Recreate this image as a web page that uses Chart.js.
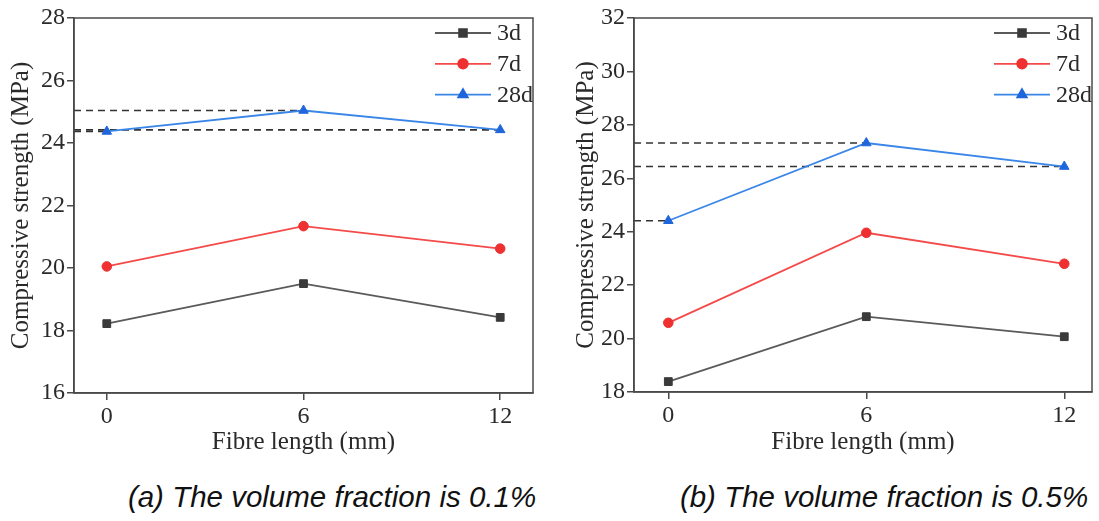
<!DOCTYPE html>
<html><head><meta charset="utf-8">
<script src="https://cdn.jsdelivr.net/npm/chart.js@4/dist/chart.umd.min.js"></script>
<style>
html,body{margin:0;padding:0;background:#fff;width:1099px;height:521px;overflow:hidden;}
.panel{position:absolute;top:0;}
.cap{position:absolute;font:italic 29.5px "Liberation Sans",Arial,sans-serif;color:#111;white-space:nowrap;transform:translateX(-50%);line-height:32px;}
</style></head><body>
<div class="panel" style="left:0px"><canvas id="ca" width="548" height="460"></canvas></div>
<div class="panel" style="left:550px"><canvas id="cb" width="549" height="460"></canvas></div>
<div class="cap" style="left:332px;top:481px">(a) The volume fraction is 0.1%</div>
<div class="cap" style="left:884px;top:481px">(b) The volume fraction is 0.5%</div>
<script>
// ---- data ----
const fibreLengths = [0, 6, 12];
const ageLabels = ['3d', '7d', '28d'];
const xTickValues = [0, 6, 12];
const yTicksA = [16, 18, 20, 22, 24, 26, 28];
const yTicksB = [18, 20, 22, 24, 26, 28, 30, 32];
// (a) volume fraction 0.1%
const strengthA_3d = [18.22, 19.50, 18.42];
const strengthA_7d = [20.05, 21.34, 20.62];
const strengthA_28d = [24.37, 25.04, 24.42];
// (b) volume fraction 0.5%
const strengthB_3d = [18.39, 20.82, 20.07];
const strengthB_7d = [20.59, 23.96, 22.80];
const strengthB_28d = [24.41, 27.32, 26.44];

const axisColor = '#4a4a4a';
const textColor = '#2a2a2a';
const serif = '"Liberation Serif","Times New Roman",serif';
const seriesStyle = [
  {line: '#5a5a5a', point: '#3a3a3a', pointStyle: 'rect', radius: 5.5},
  {line: '#f44a4a', point: '#ee3030', pointStyle: 'circle', radius: 4.8},
  {line: '#3a86e8', point: '#1f66dc', pointStyle: 'triangle', radius: 5.5}
];

const framePlugin = {
  id: 'frame',
  afterDatasetsDraw(chart) {
    const {ctx, chartArea: a} = chart;
    ctx.save();
    ctx.strokeStyle = axisColor;
    ctx.lineWidth = 1.5;
    ctx.strokeRect(a.left, a.top, a.width, a.height);
    ctx.restore();
  }
};

const lineLegendPlugin = {
  id: 'lineLegend',
  afterDraw(chart) {
    const {ctx, chartArea: a} = chart;
    const items = chart.data.datasets.filter(d => !d.isGuide);
    ctx.save();
    items.forEach((d, i) => {
      const y = a.top + 15 + i * 30.8;
      const x1 = a.right - 98, x2 = a.right - 42;
      ctx.strokeStyle = d.borderColor;
      ctx.lineWidth = d.borderWidth;
      ctx.setLineDash([]);
      ctx.beginPath(); ctx.moveTo(x1, y); ctx.lineTo(x2, y); ctx.stroke();
      ctx.fillStyle = d.pointBackgroundColor;
      ctx.strokeStyle = d.pointBorderColor;
      Chart.helpers.drawPoint(ctx, {pointStyle: d.pointStyle, rotation: 0, radius: d.pointRadius, borderWidth: 1}, (x1 + x2) / 2, y);
      ctx.fillStyle = textColor;
      ctx.font = '24px ' + serif;
      ctx.textAlign = 'left';
      ctx.textBaseline = 'middle';
      ctx.fillText(d.label, a.right - 36, y + 1);
    });
    ctx.restore();
  }
};

function makeChart(id, series, xMin, xMax, yMin, yMax, yTicks, geo) {
  const datasets = [];
  series.forEach((vals, i) => {
    const s = seriesStyle[i];
    datasets.push({
      label: ageLabels[i],
      data: fibreLengths.map((x, j) => ({x: x, y: vals[j]})),
      borderColor: s.line, borderWidth: 1.8,
      pointStyle: s.pointStyle, pointRadius: s.radius,
      pointBackgroundColor: s.point, pointBorderColor: s.point, pointBorderWidth: 1,
      order: 0
    });
  });
  // dashed guides from the y axis to each 28d point
  const last = series[series.length - 1];
  fibreLengths.forEach((x, j) => {
    datasets.push({
      label: 'guide', isGuide: true,
      data: [{x: xMin, y: last[j]}, {x: x, y: last[j]}],
      borderColor: '#333', borderWidth: 1.6, borderDash: [7, 5],
      pointRadius: 0, order: 1
    });
  });
  return new Chart(document.getElementById(id), {
    type: 'line',
    data: {datasets},
    options: {
      responsive: false, animation: false, devicePixelRatio: 1,
      layout: {padding: {top: geo.top, right: geo.right, left: 0, bottom: 0}},
      plugins: {legend: {display: false}, tooltip: {enabled: false}},
      scales: {
        x: {
          type: 'linear', min: xMin, max: xMax,
          afterBuildTicks: sc => { sc.ticks = xTickValues.map(v => ({value: v})); },
          afterFit: sc => { sc.height = geo.xHeight; },
          border: {display: true, color: axisColor, width: 1.5},
          grid: {display: true, drawOnChartArea: false, drawTicks: true, tickLength: 7, color: axisColor, lineWidth: 1.5},
          ticks: {color: textColor, font: {family: serif, size: 24}, padding: 2, maxRotation: 0},
          title: {display: true, text: 'Fibre length (mm)', color: textColor, font: {family: serif, size: 25}, padding: {top: 0, bottom: 3}}
        },
        y: {
          type: 'linear', min: yMin, max: yMax,
          afterBuildTicks: sc => { sc.ticks = yTicks.map(v => ({value: v})); },
          afterFit: sc => { sc.width = geo.yWidth; },
          border: {display: true, color: axisColor, width: 1.5},
          grid: {display: true, drawOnChartArea: false, drawTicks: true, tickLength: 7, color: axisColor, lineWidth: 1.5},
          ticks: {color: textColor, font: {family: serif, size: 24}, padding: 2},
          title: {display: true, text: 'Compressive strength (MPa)', color: textColor, font: {family: serif, size: 25}, padding: {top: geo.titlePad, bottom: 0}}
        }
      }
    },
    plugins: [framePlugin, lineLegendPlugin]
  });
}

makeChart('ca', [strengthA_3d, strengthA_7d, strengthA_28d], -1, 13, 16, 28, yTicksA,
  {top: 18, right: 15, yWidth: 74, xHeight: 67, titlePad: 6});
makeChart('cb', [strengthB_3d, strengthB_7d, strengthB_28d], -1.04, 12.84, 18, 32, yTicksB,
  {top: 18, right: 7, yWidth: 84, xHeight: 68, titlePad: 21});
</script>
</body></html>
